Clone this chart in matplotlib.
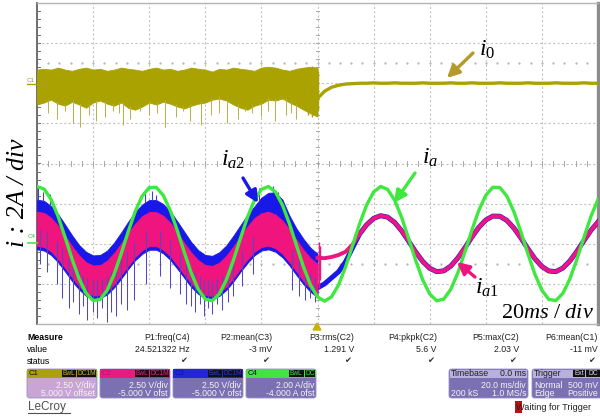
import numpy as np
import matplotlib
matplotlib.use("Agg")
import matplotlib.pyplot as plt
from matplotlib.patches import FancyBboxPatch, Rectangle, Polygon

plt.rcParams['mathtext.fontset'] = 'custom'
plt.rcParams['mathtext.rm'] = 'Liberation Serif'
plt.rcParams['mathtext.it'] = 'Liberation Serif:italic'

# ---------------- data (time in ms, amplitude in divisions) ----------------
T = np.linspace(-100, 100, 81)          # sample instants every 2.5 ms
T_PRE = T[:41]                          # -100 .. 0 ms
T_POST = T[40:]                         # 0 .. 100 ms

GREEN_IA = [-0.575, -0.634, -0.892, -1.314, -1.835, -2.381, -2.871, -3.233, -3.415, -3.389,
            -3.160, -2.760, -2.250, -1.702, -1.199, -0.812, -0.600, -0.593, -0.792, -1.168,
            -1.666, -2.213, -2.729, -3.138, -3.380, -3.420, -3.252, -2.900, -2.417, -1.872,
            -1.346, -0.916, -0.645, -0.573, -0.709, -1.035, -1.502, -2.042, -2.576, -3.026,
            -3.325, -3.430, -3.325, -3.027, -2.577, -2.044, -1.503, -1.036, -0.710, -0.573,
            -0.645, -0.915, -1.345, -1.871, -2.415, -2.899, -3.251, -3.420, -3.380, -3.139,
            -2.730, -2.215, -1.668, -1.169, -0.793, -0.593, -0.600, -0.812, -1.197, -1.701,
            -2.248, -2.759, -3.159, -3.389, -3.415, -3.234, -2.872, -2.382, -1.837, -1.315,
            -0.893]

MAG_PRE_HI = [-1.20, -1.23, -1.35, -1.55, -1.80, -2.06, -2.29, -2.46, -2.54, -2.53,
              -2.42, -2.23, -1.99, -1.73, -1.50, -1.31, -1.21, -1.21, -1.30, -1.48,
              -1.72, -1.98, -2.22, -2.41, -2.53, -2.55, -2.47, -2.30, -2.07, -1.81,
              -1.57, -1.36, -1.24, -1.20, -1.27, -1.42, -1.64, -1.90, -2.15, -2.36, -2.50]
MAG_PRE_LO = [-2.05, -2.08, -2.19, -2.38, -2.60, -2.84, -3.06, -3.21, -3.29, -3.28,
              -3.18, -3.01, -2.78, -2.55, -2.33, -2.16, -2.06, -2.06, -2.15, -2.31,
              -2.53, -2.77, -2.99, -3.17, -3.28, -3.30, -3.22, -3.07, -2.86, -2.62,
              -2.39, -2.20, -2.08, -2.05, -2.11, -2.25, -2.46, -2.69, -2.93, -3.12, -3.25]
BLUE_PRE_HI = [-0.90, -0.93, -1.06, -1.26, -1.52, -1.79, -2.03, -2.20, -2.29, -2.28,
               -2.17, -1.97, -1.72, -1.45, -1.21, -1.02, -0.91, -0.91, -1.01, -1.19,
               -1.44, -1.70, -1.96, -2.16, -2.28, -2.30, -2.21, -2.04, -1.80, -1.54,
               -1.28, -1.07, -0.85, -0.73, -0.72, -0.90, -1.30, -1.62, -1.88, -2.10, -2.25]
BLUE_PRE_LO = [-2.14, -2.17, -2.28, -2.46, -2.69, -2.93, -3.14, -3.30, -3.37, -3.36,
               -3.26, -3.09, -2.87, -2.63, -2.41, -2.25, -2.15, -2.15, -2.24, -2.40,
               -2.62, -2.85, -3.08, -3.25, -3.36, -3.38, -3.30, -3.15, -2.94, -2.70,
               -2.48, -2.29, -2.17, -2.14, -2.20, -2.34, -2.54, -2.78, -3.01, -3.20, -3.33]

MAG_POST = [-2.35, -2.36, -2.33, -2.28, -2.20, -2.02, -1.757, -1.528, -1.368, -1.301,
            -1.337, -1.469, -1.679, -1.937, -2.203, -2.440, -2.612, -2.695, -2.676, -2.557,
            -2.357, -2.105, -1.837, -1.593, -1.409, -1.311, -1.315, -1.418, -1.607, -1.854,
            -2.122, -2.372, -2.567, -2.680, -2.693, -2.604, -2.427, -2.187, -1.920, -1.665,
            -1.458]
BLUE_POST = [-3.10, -3.00, -2.85, -2.70, -2.45, -2.10, -1.757, -1.528, -1.368, -1.301,
             -1.337, -1.469, -1.679, -1.937, -2.203, -2.440, -2.612, -2.695, -2.676, -2.557,
             -2.357, -2.105, -1.837, -1.593, -1.409, -1.311, -1.315, -1.418, -1.607, -1.854,
             -2.122, -2.372, -2.567, -2.680, -2.693, -2.604, -2.427, -2.187, -1.920, -1.665,
             -1.458]

YEL_PRE_HI = [2.34, 2.36, 2.34, 2.39, 2.34, 2.31, 2.36, 2.39, 2.34, 2.36,
              2.31, 2.34, 2.39, 2.36, 2.34, 2.31, 2.36, 2.39, 2.34, 2.36,
              2.31, 2.34, 2.39, 2.36, 2.34, 2.29, 2.36, 2.34, 2.39, 2.36,
              2.34, 2.31, 2.39, 2.41, 2.39, 2.34, 2.31, 2.36, 2.39, 2.41, 2.39]
YEL_PRE_LO = [1.47, 1.52, 1.59, 1.49, 1.44, 1.54, 1.47, 1.39, 1.52, 1.57,
              1.49, 1.44, 1.52, 1.39, 1.34, 1.42, 1.52, 1.47, 1.54, 1.49,
              1.42, 1.37, 1.44, 1.49, 1.52, 1.59, 1.62, 1.57, 1.47, 1.39,
              1.34, 1.44, 1.49, 1.59, 1.57, 1.62, 1.52, 1.44, 1.34, 1.25, 1.17]
YEL_POST = [1.62, 1.80, 1.90, 1.95, 1.98, 1.99, 2.00, 2.00, 2.01, 2.00,
            2.00, 2.01, 2.00, 2.00, 2.00, 2.01, 2.00, 2.00, 2.00, 2.01,
            2.00, 2.00, 2.01, 2.00, 2.00, 2.00, 2.01, 2.00, 2.00, 2.00,
            2.01, 2.00, 2.00, 2.00, 2.01, 2.00, 2.00, 2.00, 2.01, 2.00, 2.00]

BLUE_SPIKE_T = [-99, -96.5, -93, -91, -88.5, -87, -85, -83.5, -82, -80,
                -78.5, -77, -75, -73.5, -72, -70, -68, -65.5, -61, -56,
                -52.5, -49, -47, -45, -43.5, -42, -40.5, -39, -37.5, -36,
                -34, -32, -30, -27, -23, -9, -6.5, -4.5, -2.5, -1]
BLUE_SPIKE_END = [-2.5, -2.7, -3.0, -3.35, -3.6, -3.45, -3.75, -3.55, -3.9, -3.7,
                  -3.85, -3.6, -3.95, -3.7, -3.8, -3.5, -3.65, -3.4, -3.0, -2.8,
                  -3.1, -3.25, -3.5, -3.55, -3.7, -3.5, -3.8, -3.6, -3.75, -3.5,
                  -3.65, -3.45, -3.3, -3.05, -2.75, -3.15, -3.3, -3.4, -3.35, -3.45]
BLUE_UP_T = [-99.5, -98, -95.5, -61.5, -59, -57.5, -21, -16, -14]
BLUE_UP_END = [-0.6, -0.7, -0.75, -0.72, -0.68, -0.78, -0.62, -0.55, -0.7]

YEL_SPIKE_T = [-96.0, -92.7, -90.1, -87.3, -84.5, -81.3, -78.8, -75.6, -73.0, -70.9, -69.2,
               -66.7, -63.4, -60.2, -57.1, -54.2, -50.6, -47.8, -45.3, -41.7, -38.1, -35.0,
               -32.4, -28.5, -25.9, -23.2, -20.3, -17.6, -15.0, -11.4, -9.3, -7.5]
YEL_SPIKE_END = [1.25, 1.1, 1.3, 1.0, 0.9, 1.2, 1.05, 1.15, 1.3, 1.25, 0.95,
                 1.1, 1.3, 1.2, 1.25, 0.9, 1.15, 1.3, 1.05, 0.95, 1.2, 1.25,
                 1.0, 1.1, 1.3, 1.25, 1.15, 1.3, 1.05, 1.2, 1.25, 1.1]

MEAS_HEAD = ["P1:freq(C4)", "P2:mean(C3)", "P3:rms(C2)", "P4:pkpk(C2)", "P5:max(C2)", "P6:mean(C1)"]
MEAS_VAL = ["24.521322 Hz", "-3 mV", "1.291 V", "5.6 V", "2.03 V", "-11 mV"]

YELLOW = '#aaa200'
MAGENTA = '#f0147e'
BLUE = '#1818e8'
GREEN = '#3ee83e'

# ---------------- figure ----------------
fig = plt.figure(figsize=(6, 4.18), dpi=100)
fig.patch.set_facecolor('white')
ax = fig.add_axes([37/600, 1-324/418, 561/600, 321/418])
ax.set_xlim(-100, 100)
ax.set_ylim(-4, 4)
ax.set_xticks([]); ax.set_yticks([])
for s in ax.spines.values():
    s.set_color('#b4b4b4'); s.set_linewidth(1.0)
ax.spines['left'].set_color('#6e6e6e'); ax.spines['left'].set_linewidth(1.4)
ax.spines['right'].set_color('#8c8c8c'); ax.spines['right'].set_linewidth(2.4)

for xv in range(-80, 100, 20):
    ax.axvline(xv, color='#c4c4c4', lw=0.8, ls=(0, (2, 2)), zorder=1)
for yv in range(-3, 4):
    ax.axhline(yv, color='#c4c4c4', lw=0.8, ls=(0, (2, 2)), zorder=1)
# minor ticks on centre cross
for yv in np.arange(-4, 4.01, 0.2):
    ax.plot([-0.7, 0.7], [yv, yv], color='#a8a8a8', lw=0.7, zorder=1)
    ax.plot([-100, -98.8], [yv, yv], color='#707070', lw=0.7, zorder=1)
for xv in np.arange(-100, 100.1, 4):
    ax.plot([xv, xv], [-0.07, 0.07], color='#a8a8a8', lw=0.7, zorder=1)
    ax.plot([xv], [2.5], marker='.', ms=1.2, color='#b0b0b0', zorder=1)
    ax.plot([xv], [-2.5], marker='.', ms=1.2, color='#b0b0b0', zorder=1)

# ---- C1 (i0) ----
ax.fill_between(T_PRE, YEL_PRE_LO, YEL_PRE_HI, color=YELLOW, lw=0.6, zorder=3)
yroot = np.interp(YEL_SPIKE_T, T_PRE, YEL_PRE_LO) + 0.05
ax.vlines(YEL_SPIKE_T, YEL_SPIKE_END, yroot, color='#b8b040', lw=0.7, zorder=3)
ax.plot(T_POST, YEL_POST, color=YELLOW, lw=2.4, zorder=3, solid_capstyle='butt')
ax.vlines([-3.5, -2.0, -0.8, 0.3], [1.2, 1.15, 1.25, 1.3], [2.4, 2.42, 2.38, 2.3],
          color=YELLOW, lw=1.0, zorder=3)

# ---- C3 (blue, i_a2) ----
ax.fill_between(T_PRE, BLUE_PRE_LO, BLUE_PRE_HI, color=BLUE, lw=0.6, zorder=3)
mag_mid = (np.array(MAG_PRE_HI) + np.array(MAG_PRE_LO)) / 2
sroot = np.interp(BLUE_SPIKE_T, T_PRE, mag_mid)
ax.vlines(BLUE_SPIKE_T, BLUE_SPIKE_END, sroot, color='#5048c4', lw=0.75, zorder=5)
broot2 = np.interp(BLUE_UP_T, T_PRE, BLUE_PRE_HI)
ax.vlines(BLUE_UP_T, broot2, BLUE_UP_END, color='#4040c8', lw=0.8, zorder=3)
ax.plot(T_POST, BLUE_POST, color=BLUE, lw=3.6, zorder=3)

# ---- C2 (magenta, i_a1) ----
ax.fill_between(T_PRE, MAG_PRE_LO, MAG_PRE_HI, color=MAGENTA, lw=0.6, zorder=4)
ax.plot(T_POST, MAG_POST, color=MAGENTA, lw=2.8, zorder=4)
ax.vlines([0.4, 1.0], [-3.1, -2.9], [-1.96, -2.05], color=MAGENTA, lw=1.0, zorder=4)

# ---- C4 (green, i_a) ----
ax.plot(T, GREEN_IA, color=GREEN, lw=2.4, zorder=6)

# ---------------- overlay (pixel coordinates) ----------------
ov = fig.add_axes([0, 0, 1, 1], zorder=10)
ov.set_xlim(0, 600); ov.set_ylim(418, 0); ov.axis('off')

serif = 'Liberation Serif'
ov.text(18, 193, 'i : 2A / div', rotation=90, ha='center', va='center',
        fontsize=18.5, family=serif, style='italic')
ov.text(548, 312, r'$20ms\ /\ div$', ha='center', va='center', fontsize=16)
ov.text(487, 49, r'$i_0$', ha='center', va='center', fontsize=17)
ov.text(233, 159, r'$i_{a2}$', ha='center', va='center', fontsize=17)
ov.text(430, 157, r'$i_a$', ha='center', va='center', fontsize=17)
ov.text(487, 287, r'$i_{a1}$', ha='center', va='center', fontsize=17)

def arrow(x0, y0, x1, y1, c):
    ov.annotate('', xy=(x1, y1), xytext=(x0, y0),
                arrowprops=dict(arrowstyle='-|>', color=c, lw=2.4, mutation_scale=18,
                                shrinkA=0, shrinkB=0))
arrow(473, 53, 447, 78, '#b39a2a')
arrow(243, 178, 258, 203, BLUE)
arrow(415, 173, 394, 203, GREEN)
arrow(475, 277, 457, 262, MAGENTA)

# channel markers
ov.text(31, 80, 'C1', fontsize=4.5, color=YELLOW, ha='center', va='center', family='Liberation Sans')
ov.plot([27, 37], [84, 84], color=YELLOW, lw=1)
ov.text(32, 237, 'C4', fontsize=4.5, color='#30c030', ha='center', va='center', family='Liberation Sans')
ov.plot([28, 37], [243, 243], color=GREEN, lw=1.2)
ov.add_patch(Polygon([[313, 330], [321, 330], [317, 323]], closed=True, color='#c8b400', zorder=5))

# measure table
sans = 'Liberation Sans'
fs = 6.3
ov.text(27, 338, 'Measure', fontsize=fs, fontweight='bold', family=sans, va='center')
ov.text(27, 350, 'value', fontsize=fs, family=sans, va='center')
ov.text(27, 361, 'status', fontsize=fs, family=sans, va='center')
col_right = [190, 272, 354, 437, 519, 598]
for xr, h, v in zip(col_right, MEAS_HEAD, MEAS_VAL):
    ov.text(xr, 338, h, fontsize=fs, family=sans, ha='right', va='center', color='#202020')
    ov.text(xr, 350, v, fontsize=fs, family=sans, ha='right', va='center', color='#202020')
    ov.text(xr - 3, 361, '\u2714', fontsize=6, family='DejaVu Sans', ha='right', va='center', color='#303030')

BODY = '#7a70b2'
HEAD = '#b8b0de'

def chan_box(x0, bar, body, name, name_col, labels, lab_col, l1, l2):
    w = 70
    ov.add_patch(FancyBboxPatch((x0, 369), w, 29, boxstyle='round,pad=0,rounding_size=2.5',
                                fc=body, ec='#9a90c8', lw=0.6))
    ov.add_patch(Rectangle((x0, 369), w, 9, fc=bar, ec='none'))
    ov.text(x0 + 2, 373.5, name, fontsize=5.6, family=sans, color=name_col, va='center')
    xr = x0 + w - 1
    for lab in reversed(labels):
        lw_ = 4.2 * len(lab) + 2
        ov.add_patch(Rectangle((xr - lw_, 370), lw_, 7, fc='#101010', ec='none'))
        ov.text(xr - lw_ / 2, 373.6, lab, fontsize=4.8, family=sans, color=lab_col,
                ha='center', va='center')
        xr -= lw_ + 1
    ov.text(x0 + w - 2, 385, l1, fontsize=fs, family=sans, color='#f4f4f4', ha='right', va='center')
    ov.text(x0 + w - 2, 394, l2, fontsize=fs, family=sans, color='#f4f4f4', ha='right', va='center')

chan_box(27, '#a9a20a', '#c9a5d6', 'C1', '#101010', ['BwL', 'DC1M'], '#c0b830', '2.50 V/div', '5.000 V offset')
chan_box(100, '#ea1a80', BODY, 'C2', '#c01070', ['BwL', 'DC1M'], '#f02080', '2.50 V/div', '-5.000 V ofst')
chan_box(173, '#2424da', BODY, 'C3', '#1010b0', ['BwL', 'DC1M'], '#3030f0', '2.50 V/div', '-5.000 V ofst')
chan_box(246, '#44e044', BODY, 'C4', '#101010', ['BwL', 'DC'], '#40e040', '2.00 A/div', '-4.000 A ofst')

# timebase
ov.add_patch(FancyBboxPatch((449, 369), 79, 29, boxstyle='round,pad=0,rounding_size=2.5',
                            fc=BODY, ec='#9a90c8', lw=0.6))
ov.add_patch(Rectangle((450, 370), 77, 8, fc=HEAD, ec='none'))
ov.text(451, 374, 'Timebase', fontsize=fs, family=sans, color='#202020', va='center')
ov.text(526, 374, '0.0 ms', fontsize=fs, family=sans, color='#202020', va='center', ha='right')
ov.text(526, 385, '20.0 ms/div', fontsize=fs, family=sans, color='#f4f4f4', va='center', ha='right')
ov.text(451, 394, '200 kS', fontsize=fs, family=sans, color='#f4f4f4', va='center')
ov.text(526, 394, '1.0 MS/s', fontsize=fs, family=sans, color='#f4f4f4', va='center', ha='right')
# trigger
ov.add_patch(FancyBboxPatch((532, 369), 72, 29, boxstyle='round,pad=0,rounding_size=2.5',
                            fc=BODY, ec='#9a90c8', lw=0.6))
ov.add_patch(Rectangle((533, 370), 70, 8, fc=HEAD, ec='none'))
ov.text(534, 374, 'Trigger', fontsize=fs, family=sans, color='#202020', va='center')
ov.add_patch(Rectangle((573, 370), 12, 7, fc='#101010', ec='none'))
ov.text(579, 373.6, 'Ext', fontsize=4.8, family=sans, color='#e0e0e0', ha='center', va='center')
ov.add_patch(Rectangle((586, 370), 14, 7, fc='#101010', ec='none'))
ov.text(593, 373.6, 'DC', fontsize=4.8, family=sans, color='#e0e0e0', ha='center', va='center')
ov.text(534, 385, 'Normal', fontsize=fs, family=sans, color='#f4f4f4', va='center')
ov.text(598, 385, '500 mV', fontsize=fs, family=sans, color='#f4f4f4', va='center', ha='right')
ov.text(534, 394, 'Edge', fontsize=fs, family=sans, color='#f4f4f4', va='center')
ov.text(598, 394, 'Positive', fontsize=fs, family=sans, color='#f4f4f4', va='center', ha='right')

# footer
ov.text(28, 407, 'LeCroy', fontsize=8.5, family=sans, color='#505050', va='center')
ov.plot([28, 70], [413, 413], color='#505050', lw=0.8)
ov.add_patch(Rectangle((515, 401), 7, 12, fc='#b01818', ec='none'))
ov.text(516, 407, 'Waiting for Trigger', fontsize=6.6, family=sans, color='#202020', va='center')

fig.savefig('out.png', dpi=100)
